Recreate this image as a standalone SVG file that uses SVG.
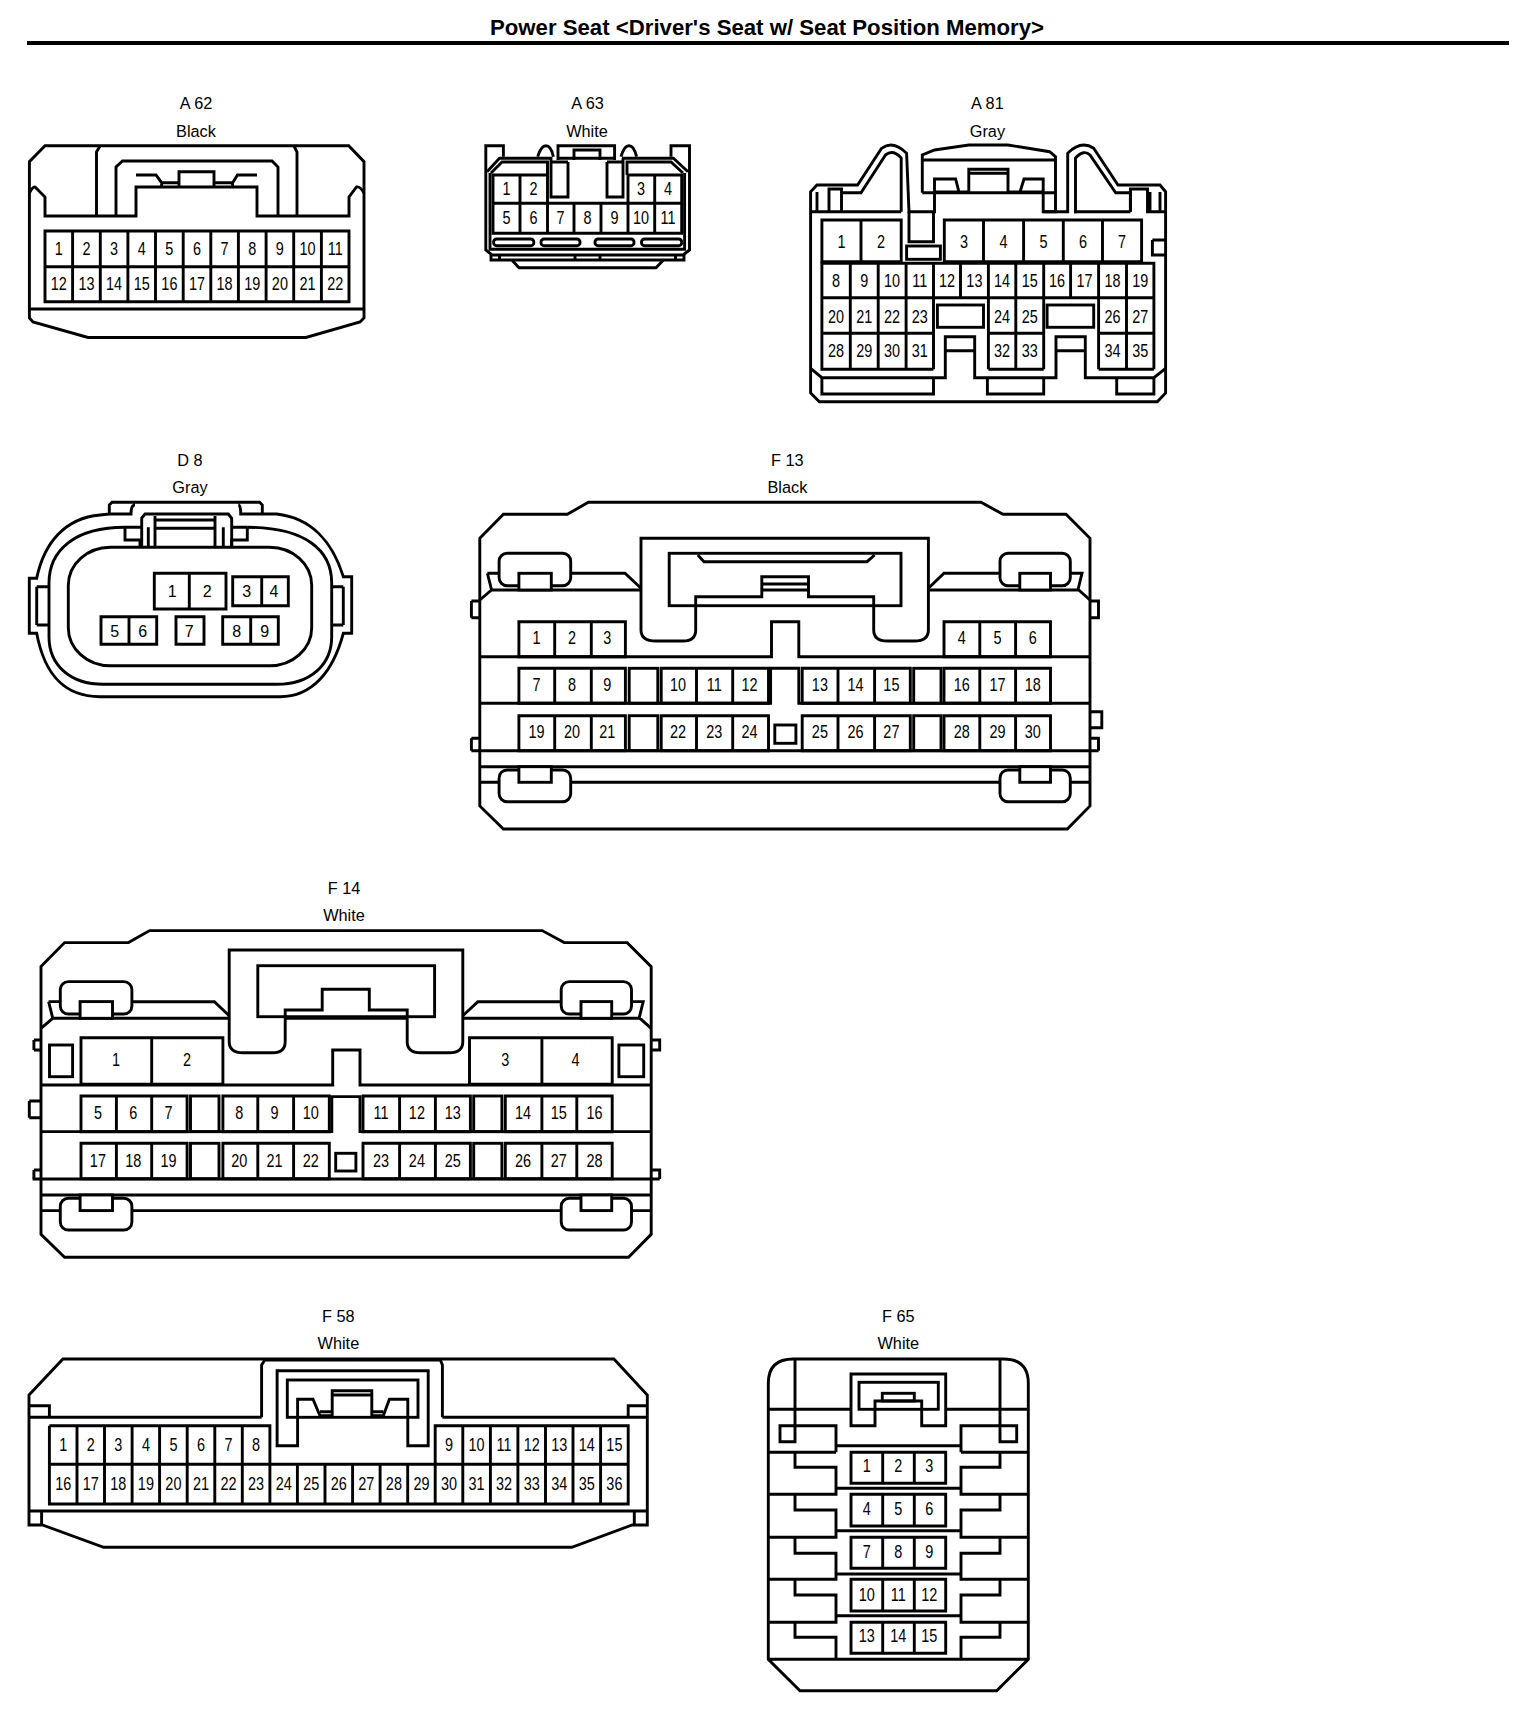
<svg xmlns="http://www.w3.org/2000/svg" xmlns:xlink="http://www.w3.org/1999/xlink" width="1536" height="1710" viewBox="0 0 1536 1710">
<style>
path,rect{fill:none;stroke:#000;stroke-width:2.9;stroke-linejoin:miter}
.w{fill:#fff}
text{fill:#000;font-family:"Liberation Sans",Arial,sans-serif;text-anchor:middle}
.t{font-size:22.2px;font-weight:bold}
.l{font-size:16.3px}
.d{font-size:16px}
.n{font-size:18.5px;transform-box:fill-box;transform-origin:center;transform:scaleX(.78)}
</style>
<defs>
<g id="lr-body">
<path d="M479.8 538.3L503.4 514.3H567.3L588.4 502.3H981L1003 514.3H1066L1090 538.3V806L1067.3 829H503.4L479.8 806Z"/>
<path d="M479.8 600L491.6 590H1078.7L1090 600M487.4 573.3H498.7M487.4 573.3L491.6 590M1070.3 573.3H1082L1077.9 590"/>
<path d="M479.8 656.7H771.5V621.7H798.8V656.7H1090M479.8 703.3H770.6V668.3H798.8V703.3H1090M471.4 750.7H1098.5M479.8 766.7H1090M479.8 782.3H1090"/>
<rect class="w" x="499.1" y="553.3" width="71.6" height="32.4" rx="8"/>
<rect class="w" x="518.9" y="573.3" width="32.4" height="16.7"/>
<rect class="w" x="1000" y="553.3" width="70.3" height="32.4" rx="8"/>
<rect class="w" x="1019.8" y="573.3" width="30.7" height="16.7"/>
<rect class="w" x="499.1" y="770" width="71.6" height="31.7" rx="8"/>
<rect class="w" x="518.9" y="766.7" width="32.4" height="15.6"/>
<rect class="w" x="1000" y="770" width="70.3" height="31.7" rx="8"/>
<rect class="w" x="1019.8" y="766.7" width="30.7" height="15.6"/>
</g>
</defs>
<rect x="0" y="0" width="1536" height="1710" style="fill:#fff;stroke:none"/>
<g id="title">
<text class="t" x="767" y="35">Power Seat &lt;Driver's Seat w/ Seat Position Memory&gt;</text>
<path d="M27 43H1509" style="stroke-width:4"/>
</g>

<g id="A62">
<text class="l" x="196" y="109">A 62</text>
<text class="l" x="196" y="136.7">Black</text>
<path d="M45 145.7L29.4 161.7V318L33 322L88 337.5H306L360 322L364 318V161.7L348.7 145.7Z"/>
<path d="M29.4 309H364"/>
<path d="M29.4 193Q33 186 35 187L45 197V216H136V187H257V216H349V197L356.5 187Q360 186 364 193"/>
<path d="M96.5 216V152L100 146M297 216V152L294 146"/>
<path d="M116 216V167L122.5 161H272L278 167V216"/>
<path d="M136 175H156L161.6 182.7H179V171.7H214V182.7H232.6L237.5 175H257M161.6 187V182.7M232.6 187V182.7M179 187V182.7M214 187V182.7"/>
<path d="M45 231H349V301.7H45ZM45 266.7H349M72.6 231V301.7M100.3 231V301.7M127.9 231V301.7M155.5 231V301.7M183.2 231V301.7M210.8 231V301.7M238.4 231V301.7M266.1 231V301.7M293.7 231V301.7M321.4 231V301.7"/>
<text class="n" x="58.8" y="255">1</text><text class="n" x="86.5" y="255">2</text><text class="n" x="114.1" y="255">3</text><text class="n" x="141.7" y="255">4</text><text class="n" x="169.4" y="255">5</text><text class="n" x="197" y="255">6</text><text class="n" x="224.6" y="255">7</text><text class="n" x="252.3" y="255">8</text><text class="n" x="279.9" y="255">9</text><text class="n" x="307.5" y="255">10</text><text class="n" x="335.2" y="255">11</text>
<text class="n" x="58.8" y="290">12</text><text class="n" x="86.5" y="290">13</text><text class="n" x="114.1" y="290">14</text><text class="n" x="141.7" y="290">15</text><text class="n" x="169.4" y="290">16</text><text class="n" x="197" y="290">17</text><text class="n" x="224.6" y="290">18</text><text class="n" x="252.3" y="290">19</text><text class="n" x="279.9" y="290">20</text><text class="n" x="307.5" y="290">21</text><text class="n" x="335.2" y="290">22</text>
</g>

<g id="A63">
<text class="l" x="587.6" y="109">A 63</text>
<text class="l" x="587" y="136.7">White</text>
<path d="M503.4 156.7V145.7H485.8V250L492 255H683L689.5 250V145.7H671V156.7"/>
<path d="M487 171.7L499.5 158.3H551V197H568V162M491 173L502 162H547.5V175M490 173V249.3H684.6V173M622 158.3H673.4L688 171.7M627 175V162H671L683 173"/>
<path d="M558 160V145.7H614.6V160M558 158.3H614.6M551 162H568M607 162H623M574 160V150H600V160"/>
<path d="M607 162V197H623V158.3"/>
<path d="M537.7 156.7Q541 145.7 546 145.7Q551 145.7 553.4 156.7M621 156.7Q624 145.7 629 145.7Q634 145.7 636.6 156.7"/>
<path d="M491 255V260H684V255M499.5 255V260M675.5 255V260M575 255V260M600 255V260M511.8 260L519 267.7H656L663.5 260"/>
<rect x="493.6" y="239" width="40.2" height="6.7" rx="3"/><rect x="541" y="239" width="39" height="6.7" rx="3"/><rect x="595" y="239" width="39" height="6.7" rx="3"/><rect x="641.5" y="239" width="40.2" height="6.7" rx="3"/>
<path d="M493 175H547.5V203.3H493ZM628 175H681.7V203.3H628ZM520 175V233.3M654.7 175V233.3M493 203.3H681.7V233.3H493ZM547.5 203.3V233.3M574 203.3V233.3M601 203.3V233.3M628 203.3V233.3"/>
<text class="n" x="506.5" y="195">1</text><text class="n" x="533.5" y="195">2</text><text class="n" x="641" y="195">3</text><text class="n" x="668" y="195">4</text>
<text class="n" x="506.5" y="224">5</text><text class="n" x="533.5" y="224">6</text><text class="n" x="560.5" y="224">7</text><text class="n" x="587.5" y="224">8</text><text class="n" x="614.5" y="224">9</text><text class="n" x="641" y="224">10</text><text class="n" x="668" y="224">11</text>
</g>

<g id="A81">
<text class="l" x="987.4" y="109">A 81</text>
<text class="l" x="987.4" y="136.7">Gray</text>
<path d="M810.6 191.7L817 185H857.6L881.6 148.3Q893 140 906.6 153.3L909 211.7H934.5V179H955.6L959 192H968.8V169.3H1008V192H1020L1024 179H1043.2V211.7H1067.7V153.3Q1081 140 1093.7 148.3L1118 185H1160L1165.6 191.7V393L1157.3 401.7H819.4L810.6 393Z"/>
<path d="M901.2 211.7V158Q893 149 885.5 155L861 192.7H841.5M1074 211.7H1075.5V158Q1084 149 1090 155L1115.7 192.7H1130.4V211.7"/>
<path d="M810.6 211.7H841.5V189H829V211.7M817 192V211.7M841.5 211.7H901.2M1130.4 211.7V189H1147.5V211.7H1165.6M1150 192V211.7M1160 192V211.7M1074 211.7H1130.4"/>
<path d="M922.3 192.7V155L934.5 150L968.8 145H1008L1049.6 151.7L1055.5 156.7V193.3M922.3 192.7H1055.5V211.7H1043.2M922.3 160H1055.5M968.8 173.3H1008M1020 192H1043.2M934.5 192H959"/>
<path d="M909 211.7V241.7H933.5V211.7"/>
<rect x="906.6" y="246" width="33.8" height="13.3"/>
<path d="M1152.4 240H1165.6M1152.4 240V255H1165.6"/>
<path d="M821.9 220H901.2V261.7H821.9ZM861 220V261.7M944.3 220H1141.6V261.7H944.3ZM983.5 220V261.7M1023.6 220V261.7M1063.3 220V261.7M1102.5 220V261.7"/>
<path d="M821.9 263.3H1153.9V297.7H821.9ZM850.3 263.3V369.3M878.2 263.3V369.3M906.1 263.3V369.3M933.5 263.3V369.3M960.5 263.3V297.7M988.4 263.3V369.3M1015.8 263.3V369.3M1043.7 263.3V369.3M1070.6 263.3V297.7M1098.6 263.3V369.3M1126.5 263.3V369.3M1153.9 263.3V369.3M821.9 297.7V369.3H933.5M821.9 333.3H933.5M988.4 333.3H1043.7M988.4 369.3H1043.7M1098.6 333.3H1153.9M1098.6 369.3H1153.9"/>
<rect x="937.4" y="305" width="46.1" height="22.3"/><rect x="1047.1" y="305" width="46.6" height="22.3"/>
<path d="M810.6 368.3L821.9 377.7H945.3V336.7H974.7V377.7H1056V336.7H1085.3V377.7H1153.9L1165.6 368.3M945.3 350.7H974.7M1056 350.7H1085.3"/>
<path d="M821.9 377.7V394H933.5V377.7M987.4 377.7V394H1043.7V377.7M1116.7 377.7V394H1153.9V377.7"/>
<text class="n" x="841.5" y="247.7">1</text><text class="n" x="881" y="247.7">2</text><text class="n" x="964" y="247.7">3</text><text class="n" x="1003.5" y="247.7">4</text><text class="n" x="1043.5" y="247.7">5</text><text class="n" x="1083" y="247.7">6</text><text class="n" x="1122" y="247.7">7</text>
<text class="n" x="836.1" y="286.7">8</text><text class="n" x="864.2" y="286.7">9</text><text class="n" x="892.1" y="286.7">10</text><text class="n" x="919.8" y="286.7">11</text><text class="n" x="947" y="286.7">12</text><text class="n" x="974.4" y="286.7">13</text><text class="n" x="1002.1" y="286.7">14</text><text class="n" x="1029.7" y="286.7">15</text><text class="n" x="1057.1" y="286.7">16</text><text class="n" x="1084.6" y="286.7">17</text><text class="n" x="1112.5" y="286.7">18</text><text class="n" x="1140.2" y="286.7">19</text>
<text class="n" x="836.1" y="322.7">20</text><text class="n" x="864.2" y="322.7">21</text><text class="n" x="892.1" y="322.7">22</text><text class="n" x="919.8" y="322.7">23</text><text class="n" x="1002.1" y="322.7">24</text><text class="n" x="1029.7" y="322.7">25</text><text class="n" x="1112.5" y="322.7">26</text><text class="n" x="1140.2" y="322.7">27</text>
<text class="n" x="836.1" y="357.3">28</text><text class="n" x="864.2" y="357.3">29</text><text class="n" x="892.1" y="357.3">30</text><text class="n" x="919.8" y="357.3">31</text><text class="n" x="1002.1" y="357.3">32</text><text class="n" x="1029.7" y="357.3">33</text><text class="n" x="1112.5" y="357.3">34</text><text class="n" x="1140.2" y="357.3">35</text>
</g>

<g id="D8">
<text class="l" x="190" y="465.7">D 8</text>
<text class="l" x="190" y="492.7">Gray</text>
<path d="M109.3 514V505L112 502.3H259.6L262.3 505V514H276.7C312 518 333 543 343.3 576.7H351.7V633.3H343.3C333 672 312 696.7 280 696.7H100C62 696.7 44 672 36.7 633.3H29.3V578.3H36.7C44 543 65 518 100 515L109.3 514H131Q131 505 135 505M262.3 514H240.7Q240.7 505 238.3 505"/>
<path d="M125 527.3C75 527.3 49 550 49 583V636.7C49 665 70 684.3 103.3 684.3H276.7C310 684.3 331.7 665 331.7 636.7V583C331.7 550 305 527.3 247.3 527.3"/>
<path d="M125 527.3H141.7M231.7 527.3H247.3M125 527.3V540H140V547.3M247.3 527.3V540H231.7V547.3"/>
<path d="M36.7 586.7H49M36.7 625H49M331.7 586.7H343.3M331.7 625H343.3M36.7 586.7V625M343.3 586.7V625"/>
<rect x="68.3" y="547.3" width="243.4" height="118.4" rx="42" ry="38"/>
<path d="M141.7 547.3V518L145 514H228.3L231.7 518.3V547.3M148.3 527.3V547.3M223.3 527.3V547.3M155 516V547.3M215 516V547.3M155 520H215M155 528.3H215"/>
<path d="M154.3 573.3H226V609H154.3ZM189.3 573.3V609M232.7 576.7H288.3V605.7H232.7ZM261.7 576.7V605.7M101 616.7H156.7V644.3H101ZM129 616.7V644.3M176 616.7H204V644.3H176ZM222.7 616.7H278.3V644.3H222.7ZM250.7 616.7V644.3"/>
<text class="d" x="172.3" y="596.7">1</text><text class="d" x="207.3" y="596.7">2</text><text class="d" x="246.7" y="596.7">3</text><text class="d" x="274" y="596.7">4</text>
<text class="d" x="114.7" y="636.7">5</text><text class="d" x="142.7" y="636.7">6</text><text class="d" x="189.3" y="636.7">7</text><text class="d" x="236.7" y="636.7">8</text><text class="d" x="264.7" y="636.7">9</text>
</g>

<g id="F13">
<text class="l" x="787.4" y="465.7">F 13</text>
<text class="l" x="787.4" y="492.7">Black</text>
<use href="#lr-body" xlink:href="#lr-body"/>
<path d="M570.7 573.3H625L641 588.3M1000 573.3H944L928.4 588.3"/>
<path class="w" d="M641 538.3H928.4V630Q928.4 641 914.5 641H887.2Q873.7 641 873.7 630V596.7H808.5V576.7H761.8V596.7H695.7V630Q695.7 641 683 641H655.7Q641 641 641 630Z"/>
<rect x="669.2" y="553.3" width="231.8" height="52.4"/>
<path d="M697.8 555L704 561.7H867L874.6 555M761.8 584H808.5"/>
<path d="M471.4 601H479.8M471.4 617.7H479.8M471.4 601V617.7M1090 601H1098.5V617.7H1090M471.4 738.3H479.8M471.4 738.3V750.7M1090 738.3H1098.5V750.7M1090 711.7H1101.8V727.7H1090"/>
<path d="M518.9 621.7H625.4V656.7H518.9ZM554.7 621.7V656.7M591.3 621.7V656.7M944 621.7H1050.5V656.7H944ZM979.8 621.7V656.7M1015.6 621.7V656.7"/>
<path d="M518.9 668.3H625.4V703.3H518.9ZM554.7 668.3V703.3M591.3 668.3V703.3M661.2 668.3H768.5V703.3H661.2ZM696.5 668.3V703.3M732.7 668.3V703.3M802.2 668.3H910.3V703.3H802.2ZM838 668.3V703.3M874.6 668.3V703.3M944 668.3H1050.5V703.3H944ZM979.8 668.3V703.3M1015.6 668.3V703.3"/>
<path d="M518.9 715.7H625.4V750.7H518.9ZM554.7 715.7V750.7M591.3 715.7V750.7M661.2 715.7H768.5V750.7H661.2ZM696.5 715.7V750.7M732.7 715.7V750.7M802.2 715.7H910.3V750.7H802.2ZM838 715.7V750.7M874.6 715.7V750.7M944 715.7H1050.5V750.7H944ZM979.8 715.7V750.7M1015.6 715.7V750.7"/>
<rect x="629.2" y="668.3" width="28.6" height="35"/><rect x="913.7" y="668.3" width="27.3" height="35"/><rect x="629.2" y="715.7" width="28.6" height="35"/><rect x="913.7" y="715.7" width="27.3" height="35"/><rect x="774.8" y="725" width="21.1" height="18.3"/>
<text class="n" x="536.6" y="644">1</text><text class="n" x="572" y="644">2</text><text class="n" x="607.3" y="644">3</text><text class="n" x="961.7" y="644">4</text><text class="n" x="997.5" y="644">5</text><text class="n" x="1032.8" y="644">6</text>
<text class="n" x="536.6" y="690.7">7</text><text class="n" x="572" y="690.7">8</text><text class="n" x="607.3" y="690.7">9</text><text class="n" x="678" y="690.7">10</text><text class="n" x="714.2" y="690.7">11</text><text class="n" x="749.6" y="690.7">12</text><text class="n" x="819.9" y="690.7">13</text><text class="n" x="855.6" y="690.7">14</text><text class="n" x="891.4" y="690.7">15</text><text class="n" x="961.7" y="690.7">16</text><text class="n" x="997.5" y="690.7">17</text><text class="n" x="1032.8" y="690.7">18</text>
<text class="n" x="536.6" y="738.3">19</text><text class="n" x="572" y="738.3">20</text><text class="n" x="607.3" y="738.3">21</text><text class="n" x="678" y="738.3">22</text><text class="n" x="714.2" y="738.3">23</text><text class="n" x="749.6" y="738.3">24</text><text class="n" x="819.9" y="738.3">25</text><text class="n" x="855.6" y="738.3">26</text><text class="n" x="891.4" y="738.3">27</text><text class="n" x="961.7" y="738.3">28</text><text class="n" x="997.5" y="738.3">29</text><text class="n" x="1032.8" y="738.3">30</text>
</g>

<g id="F14">
<text class="l" x="344" y="894">F 14</text>
<text class="l" x="344" y="920.7">White</text>
<use href="#lr-body" xlink:href="#lr-body" transform="translate(-438.8 428.3)"/>
<path d="M132 1001.7H214.4L229.2 1015.7M561.2 1001.7H477.9L462.8 1015.7"/>
<path class="w" d="M229.2 950H462.8V1041.7Q462.8 1052.7 449.3 1052.7H420.7Q407.2 1052.7 407.2 1041.7V1010H369.3V989.3H322.2V1010H285.2V1041.7Q285.2 1052.7 272.5 1052.7H243Q229.2 1052.7 229.2 1041.7Z"/>
<rect x="257.8" y="965.7" width="176.8" height="51"/>
<path d="M33.9 1040H41M33.9 1050H41M33.9 1040V1050M651.3 1040H659.7V1050H651.3M29.3 1101H41M29.3 1117.7H41M29.3 1101V1117.7M33.9 1170H41M33.9 1170V1179M651.3 1170H659.7V1179"/>
<rect x="49.5" y="1045" width="23.1" height="31.7"/><rect x="618.9" y="1045" width="24.8" height="31.7"/>
<path d="M81 1037.7H222.9V1084.3H81ZM151.7 1037.7V1084.3M469.5 1037.7H612.2V1084.3H469.5ZM541.9 1037.7V1084.3"/>
<path d="M81 1096H187.1V1131.7H81ZM116.4 1096V1131.7M151.7 1096V1131.7M222.9 1096H329.3V1131.7H222.9ZM257.8 1096V1131.7M293.6 1096V1131.7M363 1096H470.4V1131.7H363ZM399.6 1096V1131.7M435.4 1096V1131.7M505.3 1096H612.2V1131.7H505.3ZM541.9 1096V1131.7M576.8 1096V1131.7"/>
<path d="M81 1143.3H187.1V1178.7H81ZM116.4 1143.3V1178.7M151.7 1143.3V1178.7M222.9 1143.3H329.3V1178.7H222.9ZM257.8 1143.3V1178.7M293.6 1143.3V1178.7M363 1143.3H470.4V1178.7H363ZM399.6 1143.3V1178.7M435.4 1143.3V1178.7M505.3 1143.3H612.2V1178.7H505.3ZM541.9 1143.3V1178.7M576.8 1143.3V1178.7"/>
<rect x="190.5" y="1096" width="28.5" height="35.7"/><rect x="473.7" y="1096" width="28.2" height="35.7"/><rect x="190.5" y="1143.3" width="28.5" height="35.4"/><rect x="473.7" y="1143.3" width="28.2" height="35.4"/><rect x="335.7" y="1153.3" width="20.2" height="17.7"/>
<text class="n" x="116" y="1066">1</text><text class="n" x="187" y="1066">2</text><text class="n" x="505.3" y="1066">3</text><text class="n" x="575.6" y="1066">4</text>
<text class="n" x="97.9" y="1119">5</text><text class="n" x="133.2" y="1119">6</text><text class="n" x="168.6" y="1119">7</text><text class="n" x="239.3" y="1119">8</text><text class="n" x="274.6" y="1119">9</text><text class="n" x="310.8" y="1119">10</text><text class="n" x="381.1" y="1119">11</text><text class="n" x="416.9" y="1119">12</text><text class="n" x="452.7" y="1119">13</text><text class="n" x="523" y="1119">14</text><text class="n" x="558.7" y="1119">15</text><text class="n" x="594.5" y="1119">16</text>
<text class="n" x="97.9" y="1166.7">17</text><text class="n" x="133.2" y="1166.7">18</text><text class="n" x="168.6" y="1166.7">19</text><text class="n" x="239.3" y="1166.7">20</text><text class="n" x="274.6" y="1166.7">21</text><text class="n" x="310.8" y="1166.7">22</text><text class="n" x="381.1" y="1166.7">23</text><text class="n" x="416.9" y="1166.7">24</text><text class="n" x="452.7" y="1166.7">25</text><text class="n" x="523" y="1166.7">26</text><text class="n" x="558.7" y="1166.7">27</text><text class="n" x="594.5" y="1166.7">28</text>
</g>

<g id="F58">
<text class="l" x="338.4" y="1321.7">F 58</text>
<text class="l" x="338.4" y="1349">White</text>
<path d="M29 1395L62.9 1359H613.9L647.3 1395V1525H632.2L571.8 1547.3H103.7L42.4 1525H29Z"/>
<path d="M29 1417.3H261.6M442.4 1417.3H647.3M29 1511H647.3M29 1405.7H49.4V1417.3M647.3 1405.7H628.2V1417.3M41.6 1511V1525M634.3 1511V1525"/>
<path d="M261.6 1417.3V1365L264.9 1360H440.4L442.4 1365V1417.3"/>
<path class="w" d="M277.1 1370.7H428.2V1445.7H407.8V1399.3H389.4L383.3 1415.7H371.8V1390.7H332.2V1415.7H320L313 1399.3H297.6V1445.7H277.1Z"/>
<rect x="287.3" y="1380" width="130.7" height="37.3"/>
<path d="M332.2 1395H371.8M320 1411.7H332.2M371.8 1411.7H383.3"/>
<path d="M49.4 1425.7H269.9V1464.3M435.2 1464.3V1425.7H628.2V1504H49.4V1425.7M49.4 1464.3H628.2M77 1425.7V1504M104.5 1425.7V1504M132.1 1425.7V1504M159.6 1425.7V1504M187.2 1425.7V1504M214.8 1425.7V1504M242.3 1425.7V1504M269.9 1464.3V1504M297.4 1464.3V1504M325 1464.3V1504M352.6 1464.3V1504M380.1 1464.3V1504M407.7 1464.3V1504M435.2 1464.3V1504M462.8 1425.7V1504M490.4 1425.7V1504M517.9 1425.7V1504M545.5 1425.7V1504M573 1425.7V1504M600.6 1425.7V1504"/>
<text class="n" x="63.2" y="1450.7">1</text><text class="n" x="90.7" y="1450.7">2</text><text class="n" x="118.3" y="1450.7">3</text><text class="n" x="145.9" y="1450.7">4</text><text class="n" x="173.4" y="1450.7">5</text><text class="n" x="201" y="1450.7">6</text><text class="n" x="228.5" y="1450.7">7</text><text class="n" x="256.1" y="1450.7">8</text><text class="n" x="449" y="1450.7">9</text><text class="n" x="476.6" y="1450.7">10</text><text class="n" x="504.1" y="1450.7">11</text><text class="n" x="531.7" y="1450.7">12</text><text class="n" x="559.3" y="1450.7">13</text><text class="n" x="586.8" y="1450.7">14</text><text class="n" x="614.4" y="1450.7">15</text>
<text class="n" x="63.2" y="1490">16</text><text class="n" x="90.7" y="1490">17</text><text class="n" x="118.3" y="1490">18</text><text class="n" x="145.9" y="1490">19</text><text class="n" x="173.4" y="1490">20</text><text class="n" x="201" y="1490">21</text><text class="n" x="228.5" y="1490">22</text><text class="n" x="256.1" y="1490">23</text><text class="n" x="283.7" y="1490">24</text><text class="n" x="311.2" y="1490">25</text><text class="n" x="338.8" y="1490">26</text><text class="n" x="366.3" y="1490">27</text><text class="n" x="393.9" y="1490">28</text><text class="n" x="421.5" y="1490">29</text><text class="n" x="449" y="1490">30</text><text class="n" x="476.6" y="1490">31</text><text class="n" x="504.1" y="1490">32</text><text class="n" x="531.7" y="1490">33</text><text class="n" x="559.3" y="1490">34</text><text class="n" x="586.8" y="1490">35</text><text class="n" x="614.4" y="1490">36</text>
</g>

<g id="F65">
<text class="l" x="898.3" y="1321.7">F 65</text>
<text class="l" x="898.3" y="1349">White</text>
<path d="M768.3 1659.3V1383.3Q768.3 1359 793.3 1359H1003.3Q1028.3 1359 1028.3 1383.3V1659.3L996.7 1690.7H800ZM768.3 1659.3H1028.3"/>
<path d="M795 1359V1441.7H780V1425.7H836V1452.3M1000 1359V1441.7H1016.7V1425.7H961V1452.3M768.3 1409.3H851M945.7 1409.3H1028.3"/>
<path d="M851 1374H945.7V1425.7H921.7V1401H875V1425.7H851Z"/>
<rect x="859" y="1382.3" width="79.3" height="27"/><rect x="882.3" y="1393.3" width="32" height="7.7"/>
<path d="M836 1445.7H961M768.3 1452.3H836M961 1452.3H1028.3"/>
<path d="M795 1452.3V1467.3H836V1494.3H768.3M1000 1452.3V1467.3H961V1494.3H1028.3M836 1488.3H961"/>
<path d="M795 1494.3V1510H836V1537.3H768.3M1000 1494.3V1510H961V1537.3H1028.3M836 1530.7H961"/>
<path d="M795 1537.3V1553.3H836V1579.3H768.3M1000 1537.3V1553.3H961V1579.3H1028.3M836 1574H961"/>
<path d="M795 1579.3V1595H836V1622.3H768.3M1000 1579.3V1595H961V1622.3H1028.3M836 1615.7H961"/>
<path d="M795 1622.3V1637.3H836V1659.3M1000 1622.3V1637.3H961V1659.3"/>
<path d="M851 1452.3H945.7V1483.3H851ZM882.7 1452.3V1483.3M914.3 1452.3V1483.3M851 1494.3H945.7V1526H851ZM882.7 1494.3V1526M914.3 1494.3V1526M851 1537.3H945.7V1568.3H851ZM882.7 1537.3V1568.3M914.3 1537.3V1568.3M851 1579.3H945.7V1611H851ZM882.7 1579.3V1611M914.3 1579.3V1611M851 1622.3H945.7V1653.3H851ZM882.7 1622.3V1653.3M914.3 1622.3V1653.3"/>
<text class="n" x="866.7" y="1472.3">1</text><text class="n" x="898.3" y="1472.3">2</text><text class="n" x="929.3" y="1472.3">3</text>
<text class="n" x="866.7" y="1515">4</text><text class="n" x="898.3" y="1515">5</text><text class="n" x="929.3" y="1515">6</text>
<text class="n" x="866.7" y="1557.7">7</text><text class="n" x="898.3" y="1557.7">8</text><text class="n" x="929.3" y="1557.7">9</text>
<text class="n" x="866.7" y="1601">10</text><text class="n" x="898.3" y="1601">11</text><text class="n" x="929.3" y="1601">12</text>
<text class="n" x="866.7" y="1642.3">13</text><text class="n" x="898.3" y="1642.3">14</text><text class="n" x="929.3" y="1642.3">15</text>
</g>
</svg>
